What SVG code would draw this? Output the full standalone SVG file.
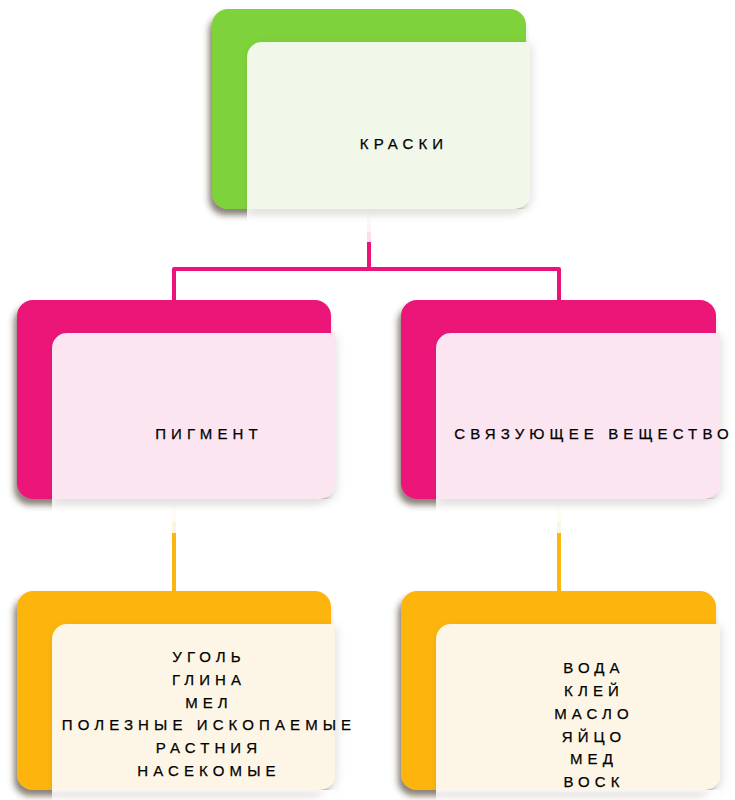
<svg xmlns="http://www.w3.org/2000/svg" width="735" height="800" viewBox="0 0 735 800">
<defs>
<filter id="backShadow" x="-20%" y="-20%" width="140%" height="150%">
<feDropShadow dx="-3" dy="6" stdDeviation="3" flood-color="#3a2a20" flood-opacity="0.6"/>
</filter>
<filter id="frontShadow" x="-20%" y="-20%" width="140%" height="150%">
<feDropShadow dx="2" dy="3" stdDeviation="5" flood-color="#000" flood-opacity="0.12"/>
</filter>
<linearGradient id="fade" x1="0" y1="0" x2="0" y2="1">
<stop offset="0" stop-color="#fff" stop-opacity="0.95"/>
<stop offset="1" stop-color="#fff" stop-opacity="0.6"/>
</linearGradient>
</defs>
<style>
text{font-family:"Liberation Sans",Arial,sans-serif;font-size:15px;letter-spacing:5.1px;fill:#000;text-anchor:middle;dominant-baseline:central;stroke:#000;stroke-width:0.25px}
.conn{fill:none;stroke-width:4;stroke-linejoin:round}
.pink{stroke:#ec1279}
.pale{stroke:#f9dfec}
.yel{stroke:#fdb510}
.paley{stroke:#fdf4e0}
</style>
<rect width="735" height="800" fill="#fff"/>
<g id="connectors">
<path class="conn pale" d="M369 209 V242"/>
<path class="conn pink" d="M369 242 V269 M174 300 V269 H559 V300"/>
<path class="conn paley" d="M174 499 V533 M559 499 V533"/>
<path class="conn yel" d="M174 533 V592 M559 533 V592"/>
</g>
<g id="node-kraski">
<rect x="212" y="9" width="314" height="200" rx="16" fill="#7ed23b" filter="url(#backShadow)"/>
<rect x="247" y="209" width="283" height="23" fill="url(#fade)"/>
<path d="M262 42 H530 V194 A15 15 0 0 1 515 209 H247 V57 A15 15 0 0 1 262 42 Z" fill="#f1f8e9" filter="url(#frontShadow)"/>
<text x="404" y="143">КРАСКИ</text>
</g>
<g id="node-pigment">
<rect x="17" y="300" width="314" height="199" rx="16" fill="#ec1279" filter="url(#backShadow)"/>
<rect x="52" y="499" width="283" height="23" fill="url(#fade)"/>
<path d="M67 333 H335 V484 A15 15 0 0 1 320 499 H52 V348 A15 15 0 0 1 67 333 Z" fill="#fbe5f0" filter="url(#frontShadow)"/>
<text x="209" y="433">ПИГМЕНТ</text>
</g>
<g id="node-binder">
<rect x="401" y="300" width="315" height="199" rx="16" fill="#ec1279" filter="url(#backShadow)"/>
<rect x="436" y="499" width="284" height="23" fill="url(#fade)"/>
<path d="M451 333 H720 V484 A15 15 0 0 1 705 499 H436 V348 A15 15 0 0 1 451 333 Z" fill="#fbe5f0" filter="url(#frontShadow)"/>
<text x="594" y="433">СВЯЗУЮЩЕЕ ВЕЩЕСТВО</text>
</g>
<g id="node-pigment-list">
<rect x="17" y="591" width="314" height="199" rx="16" fill="#fdb510" filter="url(#backShadow)"/>
<path d="M67 624 H335 V775 A15 15 0 0 1 320 790 H52 V639 A15 15 0 0 1 67 624 Z" fill="#fdf6e6" filter="url(#frontShadow)"/>
<rect x="52" y="790" width="283" height="10" fill="url(#fade)"/>
<text x="209" y="656">УГОЛЬ</text>
<text x="209" y="679">ГЛИНА</text>
<text x="209" y="702">МЕЛ</text>
<text x="209" y="724">ПОЛЕЗНЫЕ ИСКОПАЕМЫЕ</text>
<text x="209" y="747">РАСТНИЯ</text>
<text x="209" y="770">НАСЕКОМЫЕ</text>
</g>
<g id="node-binder-list">
<rect x="401" y="591" width="315" height="199" rx="16" fill="#fdb510" filter="url(#backShadow)"/>
<path d="M451 624 H720 V775 A15 15 0 0 1 705 790 H436 V639 A15 15 0 0 1 451 624 Z" fill="#fdf6e6" filter="url(#frontShadow)"/>
<rect x="436" y="790" width="284" height="10" fill="url(#fade)"/>
<text x="594" y="667">ВОДА</text>
<text x="594" y="690">КЛЕЙ</text>
<text x="594" y="713">МАСЛО</text>
<text x="594" y="736">ЯЙЦО</text>
<text x="594" y="758">МЕД</text>
<text x="594" y="781">ВОСК</text>
</g>
</svg>
